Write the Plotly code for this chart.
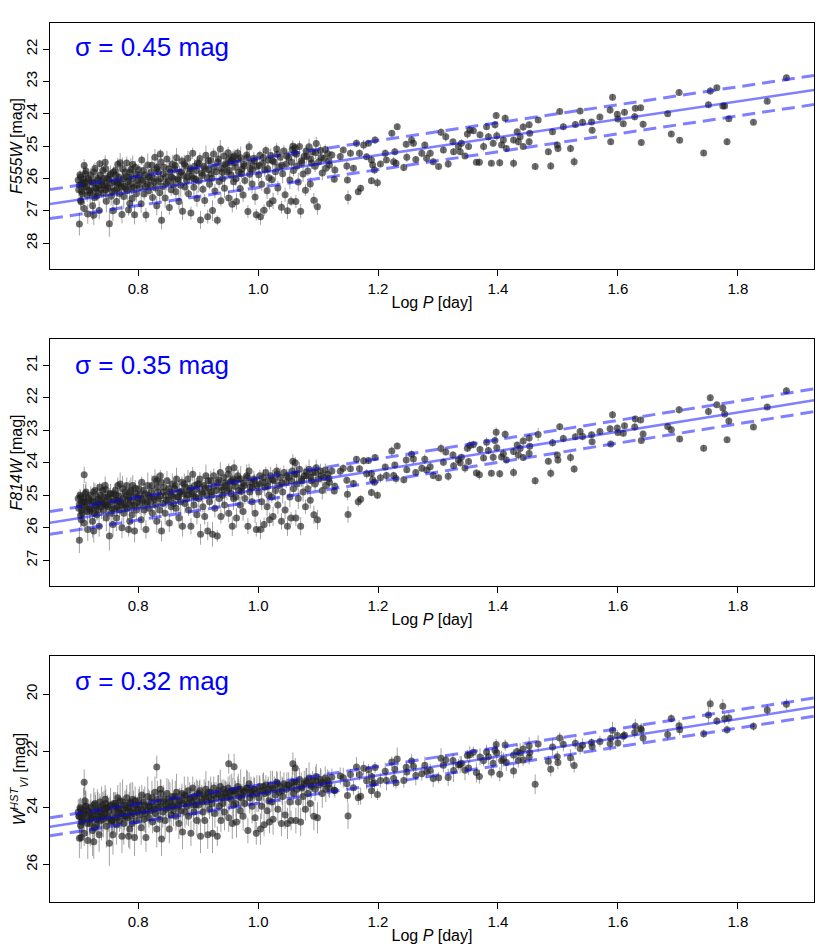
import plotly.graph_objects as go

# log period [day], shared by the three panels (one entry per Cepheid)
log_p = [
    0.701, 0.702, 0.703, 0.704, 0.706, 0.707, 0.709, 0.710, 0.712, 0.713,
    0.715, 0.716, 0.718, 0.719, 0.711, 0.705, 0.721, 0.722, 0.724, 0.725,
    0.726, 0.728, 0.729, 0.731, 0.732, 0.734, 0.735, 0.736, 0.738, 0.739,
    0.727, 0.733, 0.741, 0.742, 0.744, 0.745, 0.747, 0.748, 0.750, 0.752,
    0.753, 0.755, 0.756, 0.758, 0.759, 0.746, 0.761, 0.763, 0.764, 0.766,
    0.767, 0.769, 0.770, 0.772, 0.773, 0.775, 0.776, 0.778, 0.779, 0.765,
    0.781, 0.782, 0.784, 0.785, 0.787, 0.788, 0.790, 0.791, 0.793, 0.794,
    0.796, 0.797, 0.799, 0.786, 0.801, 0.803, 0.805, 0.806, 0.808, 0.810,
    0.811, 0.813, 0.815, 0.816, 0.818, 0.819, 0.821, 0.823, 0.824, 0.826,
    0.828, 0.829, 0.831, 0.833, 0.834, 0.836, 0.838, 0.839, 0.837, 0.841,
    0.843, 0.845, 0.846, 0.848, 0.850, 0.852, 0.853, 0.855, 0.857, 0.858,
    0.859, 0.861, 0.863, 0.864, 0.866, 0.868, 0.869, 0.871, 0.873, 0.874,
    0.876, 0.878, 0.879, 0.881, 0.883, 0.884, 0.886, 0.888, 0.889, 0.891,
    0.893, 0.894, 0.896, 0.898, 0.899, 0.901, 0.903, 0.904, 0.906, 0.908,
    0.910, 0.911, 0.913, 0.915, 0.916, 0.918, 0.919, 0.921, 0.923, 0.924,
    0.926, 0.928, 0.930, 0.932, 0.933, 0.935, 0.937, 0.938, 0.939, 0.941,
    0.943, 0.944, 0.946, 0.948, 0.950, 0.951, 0.953, 0.955, 0.957, 0.958,
    0.959, 0.961, 0.963, 0.964, 0.966, 0.968, 0.970, 0.971, 0.973, 0.975,
    0.977, 0.978, 0.981, 0.983, 0.985, 0.986, 0.988, 0.990, 0.991, 0.993,
    0.995, 0.997, 0.998, 1.001, 1.003, 1.004, 1.006, 1.008, 1.010, 1.011,
    1.013, 1.015, 1.017, 1.018, 1.019, 1.021, 1.023, 1.025, 1.027, 1.029,
    1.031, 1.033, 1.035, 1.037, 1.039, 1.041, 1.043, 1.045, 1.047, 1.049,
    1.051, 1.053, 1.055, 1.057, 1.059, 1.061, 1.063, 1.065, 1.067, 1.069,
    1.071, 1.073, 1.075, 1.077, 1.079, 1.081, 1.083, 1.085, 1.087, 1.089,
    1.091, 1.093, 1.095, 1.097, 1.099, 1.101, 1.104, 1.107, 1.110, 1.113,
    1.116, 1.119, 0.710, 0.831, 0.951, 0.960, 1.058, 1.062,
    1.123, 1.128, 1.127, 1.137, 1.142, 1.148, 1.149, 1.150, 1.154, 1.159,
    1.164, 1.167, 1.171, 1.169, 1.176, 1.181, 1.184, 1.189, 1.191, 1.195,
    1.189, 1.194, 1.199, 1.204, 1.212, 1.214, 1.223, 1.228, 1.226, 1.230,
    1.232, 1.243, 1.247, 1.248, 1.256, 1.259, 1.263, 1.273, 1.278, 1.281,
    1.287, 1.292, 1.301, 1.305, 1.309, 1.313, 1.317, 1.325, 1.326, 1.334,
    1.337, 1.339, 1.345, 1.349, 1.351, 1.353, 1.359, 1.364, 1.369, 1.370,
    1.376, 1.381, 1.384, 1.389, 1.392, 1.395, 1.398, 1.397, 1.403, 1.406,
    1.409, 1.412, 1.414, 1.426, 1.426, 1.432, 1.434, 1.437, 1.442, 1.442,
    1.452, 1.453, 1.452, 1.462, 1.467, 1.484, 1.488, 1.491, 1.499, 1.500,
    1.503, 1.509, 1.521, 1.527, 1.529,
    1.537, 1.541, 1.556, 1.557, 1.570, 1.587, 1.591, 1.588, 1.599, 1.600,
    1.609, 1.611, 1.629, 1.628, 1.638, 1.642, 1.639, 1.683, 1.689, 1.702,
    1.703, 1.743, 1.751, 1.754, 1.765, 1.775, 1.778, 1.782, 1.785, 1.826,
    1.849, 1.881,
    0.700, 0.702, 0.704, 0.706, 0.708, 0.712, 0.714, 0.717, 0.720, 0.723,
    0.726, 0.730, 0.733, 0.737, 0.740, 0.743, 0.746, 0.749, 0.751, 0.754,
    0.757, 0.760, 0.762, 0.765, 0.768, 0.771, 0.774, 0.777, 0.780, 0.783,
    0.786, 0.789, 0.792, 0.795, 0.798, 0.802, 0.805, 0.809, 0.812, 0.817,
    0.822, 0.827, 0.832, 0.837, 0.842, 0.847, 0.851, 0.856, 0.862, 0.867,
    0.872, 0.877, 0.882, 0.887, 0.892, 0.897, 0.902, 0.907, 0.912, 0.917,
    0.922, 0.927, 0.934, 0.940, 0.945, 0.952, 0.956, 0.962, 0.967, 0.972,
    0.976, 0.982, 0.987, 0.994, 1.002, 1.009, 1.016, 1.024, 1.032, 1.040,
    1.048, 1.056, 1.064, 1.072, 1.080, 1.088, 1.096, 1.105, 1.112, 1.118,
]

f555w = [
    26.35, 27.41, 25.88, 26.68, 26.18, 26.48, 26.03, 26.93, 26.27, 25.77,
    26.52, 27.10, 26.07, 26.37, 26.12, 26.72, 25.89, 26.39, 26.84, 26.14,
    27.14, 25.69, 26.29, 26.54, 25.99, 26.24, 26.99, 25.54, 26.34, 26.09,
    26.59, 26.44, 25.75, 26.45, 26.20, 25.50, 26.70, 26.00, 26.30, 27.40,
    25.90, 26.55, 26.15, 27.00, 25.80, 26.35, 26.36, 25.91, 26.71, 25.56,
    26.16, 26.46, 25.51, 26.26, 27.11, 26.01, 26.56, 25.81, 26.31, 26.11,
    25.52, 26.37, 26.97, 25.97, 26.17, 25.72, 26.62, 25.57, 26.27, 27.12,
    25.87, 26.47, 26.07, 26.77, 25.73, 26.28, 26.78, 25.43, 26.08, 26.48,
    25.88, 27.13, 26.18, 25.58, 26.38, 25.98, 26.19, 25.59, 26.59, 25.99,
    25.34, 26.29, 26.84, 25.79, 26.09, 26.44, 25.49, 27.29, 25.24, 26.25,
    25.65, 26.60, 25.95, 25.40, 26.10, 26.90, 25.80, 26.35, 25.55, 26.00,
    26.20, 25.71, 26.41, 25.36, 26.01, 26.71, 25.81, 26.21, 25.46, 27.01,
    25.91, 26.26, 25.61, 26.07, 25.37, 26.47, 25.77, 27.07, 25.92, 25.22,
    26.27, 25.62, 26.02, 26.62, 25.52, 26.08, 25.38, 27.28, 25.83, 26.33,
    25.63, 26.68, 25.28, 25.98, 27.18, 25.73, 26.18, 25.44, 25.99, 26.99,
    25.24, 26.39, 25.79, 27.29, 25.49, 26.09, 25.09, 26.69, 25.69, 26.00,
    25.30, 26.30, 25.60, 25.80, 25.20, 26.60, 25.50, 25.90, 26.80, 25.35,
    26.10, 25.51, 26.01, 26.71, 25.21, 25.81, 26.31, 25.36, 25.71, 26.51,
    25.61, 26.06, 25.27, 27.02, 25.02, 25.87, 25.52, 26.17, 25.72, 25.37,
    26.57, 27.12, 25.62, 25.88, 25.28, 27.18, 26.18, 25.53, 26.98, 25.73,
    25.13, 26.38, 25.43, 25.98, 26.78, 25.29, 26.04, 26.69, 25.49, 25.79,
    25.09, 26.29, 25.64, 25.34, 26.89, 25.85, 25.15, 26.50, 25.55, 27.00,
    25.35, 26.05, 26.70, 25.10, 25.75, 25.21, 26.71, 25.61, 26.11, 25.01,
    27.01, 25.51, 25.86, 25.31, 26.36, 25.32, 25.77, 25.02, 26.17, 25.52,
    25.17, 26.67, 25.62, 24.92, 26.87, 25.48, 25.13, 25.83, 25.38, 25.68,
    25.23, 25.58, 25.60, 25.70, 25.40, 25.30, 25.00, 25.05,
    25.27, 25.74, 26.02, 25.32, 25.12, 25.61, 26.05, 26.59, 25.22, 25.68,
    24.91, 26.41, 26.30, 25.22, 24.96, 25.33, 24.91, 25.43, 25.58, 24.81,
    26.07, 25.74, 26.13, 25.55, 25.22, 25.43, 24.60, 25.17, 25.48, 25.53,
    24.40, 25.66, 24.94, 25.34, 24.81, 24.91, 25.41, 25.22, 24.96, 25.37,
    25.22, 25.48, 25.63, 24.57, 25.12, 24.71, 25.55, 24.86, 25.17, 25.01,
    25.17, 24.91, 25.30, 24.62, 25.01, 24.50, 24.52, 25.50, 25.50, 24.65,
    25.01, 24.40, 24.71, 25.53, 24.91, 24.34, 24.68, 24.05, 25.51, 24.96,
    24.81, 24.14, 25.07, 25.53, 24.81, 24.55, 24.86, 24.71, 25.01, 24.41,
    24.34, 24.60, 24.86, 25.63, 24.19, 25.17, 25.61, 24.55, 24.96, 25.07,
    23.93, 24.40, 25.07, 25.48, 24.33,
    23.91, 24.26, 24.25, 24.51, 24.10, 23.88, 23.49, 24.86, 24.01, 24.16,
    24.31, 23.95, 23.83, 24.09, 23.81, 24.32, 24.89, 24.00, 24.62, 23.34,
    24.82, 25.21, 23.72, 23.29, 23.19, 23.76, 23.76, 24.86, 24.15, 24.26,
    23.61, 22.88,
    26.05, 26.20, 25.95, 26.40, 26.15, 25.85, 26.25, 26.00, 26.45, 26.10,
    25.80, 26.30, 26.05, 25.90, 26.20, 26.00, 25.70, 26.25, 26.05, 25.85,
    26.40, 26.10, 25.75, 26.30, 25.95, 26.15, 25.70, 26.25, 25.95, 26.10,
    25.80, 26.30, 26.00, 25.65, 26.20, 25.90, 26.05, 25.75, 26.25, 25.95,
    25.80, 26.10, 25.65, 26.00, 25.85, 26.15, 25.70, 25.95, 25.60, 26.05,
    25.80, 25.55, 25.95, 25.70, 26.00, 25.75, 25.55, 25.90, 25.70, 25.45,
    25.85, 25.65, 25.40, 25.80, 25.55, 25.75, 25.45, 25.65, 25.40, 25.85,
    25.55, 25.35, 25.70, 25.45, 25.60, 25.35, 25.70, 25.45, 25.25, 25.60,
    25.30, 25.50, 25.25, 25.45, 25.15, 25.40, 25.20, 25.35, 25.10, 25.45,
]

f814w = [
    25.40, 26.38, 25.00, 25.62, 25.22, 25.55, 25.10, 25.85, 25.35, 24.90,
    25.50, 26.05, 25.15, 25.42, 25.20, 25.75, 25.00, 25.42, 25.80, 25.20,
    26.10, 24.85, 25.30, 25.60, 25.05, 25.25, 25.95, 24.75, 25.35, 25.18,
    25.55, 25.45, 24.85, 25.45, 25.25, 24.70, 25.70, 25.05, 25.35, 26.25,
    24.95, 25.55, 25.20, 25.90, 24.95, 25.30, 25.40, 25.00, 25.70, 24.70,
    25.20, 25.45, 24.65, 25.30, 26.00, 25.10, 25.55, 24.90, 25.35, 25.15,
    24.70, 25.40, 26.05, 25.05, 25.20, 24.85, 25.60, 24.70, 25.30, 26.10,
    24.95, 25.45, 25.10, 25.80, 24.80, 25.30, 25.75, 24.60, 25.15, 25.45,
    24.95, 26.05, 25.20, 24.70, 25.40, 25.05, 25.20, 24.70, 25.55, 25.05,
    24.50, 25.30, 25.80, 24.90, 25.10, 25.45, 24.60, 26.10, 24.40, 25.25,
    24.75, 25.55, 25.00, 24.55, 25.15, 25.85, 24.90, 25.35, 24.65, 25.05,
    25.25, 24.80, 25.40, 24.50, 25.05, 25.70, 24.90, 25.20, 24.60, 25.95,
    24.95, 25.25, 24.75, 25.10, 24.50, 25.45, 24.85, 25.95, 24.95, 24.35,
    25.30, 24.70, 25.05, 25.60, 24.65, 25.10, 24.50, 26.20, 24.90, 25.35,
    24.70, 25.65, 24.40, 25.00, 26.10, 24.80, 25.20, 24.55, 25.00, 26.20,
    24.40, 25.40, 24.85, 26.25, 24.60, 25.10, 24.30, 25.65, 24.75, 25.00,
    24.45, 25.30, 24.70, 24.85, 24.35, 25.55, 24.60, 24.95, 25.95, 24.50,
    25.10, 24.60, 25.05, 25.70, 24.40, 24.85, 25.30, 24.50, 24.75, 25.50,
    24.70, 25.10, 24.40, 25.95, 24.25, 24.90, 24.60, 25.20, 24.75, 24.50,
    25.55, 26.05, 24.70, 24.90, 24.40, 26.05, 25.20, 24.60, 25.90, 24.75,
    24.30, 25.35, 24.55, 25.00, 25.75, 24.40, 25.05, 25.65, 24.55, 24.85,
    24.25, 25.30, 24.70, 24.45, 25.80, 24.90, 24.30, 25.45, 24.60, 25.95,
    24.45, 25.05, 25.70, 24.25, 24.80, 24.35, 25.70, 24.65, 25.10, 24.20,
    25.95, 24.55, 24.90, 24.40, 25.35, 24.40, 24.80, 24.20, 25.15, 24.55,
    24.30, 25.60, 24.65, 24.15, 25.75, 24.50, 24.25, 24.85, 24.45, 24.70,
    24.35, 24.60, 24.37, 24.55, 24.20, 24.15, 23.95, 24.00,
    24.25, 24.72, 24.87, 24.26, 24.17, 24.54, 24.97, 25.59, 24.18, 24.64,
    23.89, 25.20, 25.12, 24.18, 23.94, 24.34, 23.93, 24.33, 24.52, 23.84,
    24.91, 24.60, 25.00, 24.46, 24.13, 24.39, 23.64, 24.07, 24.39, 24.48,
    23.48, 24.52, 23.91, 24.21, 23.74, 23.88, 24.30, 24.17, 23.89, 24.22,
    24.12, 24.39, 24.46, 23.56, 23.98, 23.67, 24.41, 23.76, 24.09, 23.91,
    24.00, 23.83, 24.16, 23.55, 23.96, 23.47, 23.44, 24.31, 24.37, 23.59,
    23.85, 23.37, 23.62, 24.32, 23.83, 23.31, 23.54, 23.06, 24.34, 23.82,
    23.72, 23.12, 23.91, 24.30, 23.65, 23.45, 23.76, 23.56, 23.84, 23.33,
    23.24, 23.49, 23.71, 24.55, 23.13, 23.95, 24.32, 23.38, 23.76, 23.91,
    22.89, 23.25, 23.84, 24.19, 23.20,
    23.04, 23.19, 23.14, 23.35, 23.04, 22.95, 22.52, 23.42, 22.93, 23.07,
    23.09, 22.86, 22.65, 22.90, 22.68, 23.11, 23.31, 22.88, 22.98, 22.37,
    23.27, 23.55, 22.42, 22.00, 22.21, 22.31, 22.50, 23.29, 22.71, 22.90,
    22.28, 21.78,
    25.10, 25.28, 25.05, 25.45, 25.20, 24.95, 25.30, 25.08, 25.50, 25.18,
    24.90, 25.35, 25.12, 25.00, 25.25, 25.05, 24.82, 25.30, 25.12, 24.95,
    25.42, 25.15, 24.85, 25.35, 25.02, 25.20, 24.80, 25.28, 25.00, 25.15,
    24.90, 25.32, 25.05, 24.78, 25.22, 24.98, 25.10, 24.85, 25.25, 25.00,
    24.88, 25.12, 24.75, 25.02, 24.90, 25.15, 24.80, 25.00, 24.70, 25.05,
    24.88, 24.65, 24.98, 24.78, 25.02, 24.82, 24.65, 24.95, 24.78, 24.55,
    24.90, 24.72, 24.52, 24.85, 24.62, 24.80, 24.55, 24.72, 24.50, 24.88,
    24.62, 24.45, 24.75, 24.55, 24.65, 24.45, 24.72, 24.52, 24.35, 24.62,
    24.40, 24.55, 24.35, 24.50, 24.28, 24.45, 24.30, 24.40, 24.22, 24.48,
]

w_vi = [
    24.30, 25.07, 24.00, 24.62, 24.35, 24.45, 24.10, 24.90, 24.20, 23.95,
    24.55, 25.15, 24.15, 24.40, 23.75, 25.05, 24.00, 24.35, 24.80, 24.25,
    25.20, 23.85, 24.10, 24.60, 24.05, 24.30, 24.95, 23.80, 24.45, 24.20,
    24.70, 24.40, 23.90, 24.40, 24.20, 23.70, 24.65, 24.00, 24.30, 25.25,
    23.95, 24.50, 24.45, 24.95, 23.85, 24.05, 24.35, 23.95, 24.60, 23.65,
    24.15, 24.45, 23.75, 24.20, 25.00, 24.05, 24.55, 23.90, 24.30, 24.00,
    23.65, 24.35, 25.00, 24.00, 24.15, 23.80, 24.55, 23.70, 24.20, 25.05,
    23.90, 24.45, 24.05, 24.75, 23.75, 24.25, 24.70, 23.55, 24.10, 24.40,
    23.90, 25.05, 24.10, 23.60, 24.35, 23.95, 24.10, 23.65, 24.50, 23.95,
    23.45, 24.20, 24.75, 23.80, 24.00, 24.40, 23.50, 25.10, 23.35, 24.15,
    23.70, 24.45, 23.90, 23.50, 24.00, 24.75, 23.80, 24.25, 23.60, 23.95,
    24.10, 23.70, 24.30, 23.45, 23.90, 24.55, 23.75, 24.10, 23.50, 24.85,
    23.85, 24.15, 23.60, 23.95, 23.40, 24.30, 23.70, 24.90, 23.80, 23.30,
    24.15, 23.60, 23.90, 24.45, 23.50, 23.90, 23.40, 25.00, 23.70, 24.15,
    23.55, 24.45, 23.35, 23.80, 24.95, 23.65, 24.05, 23.45, 23.85, 24.90,
    23.30, 24.20, 23.65, 25.00, 23.50, 23.95, 23.25, 24.45, 23.60, 23.85,
    23.35, 24.15, 23.50, 23.65, 23.30, 24.35, 23.45, 23.70, 24.55, 23.40,
    23.90, 23.40, 23.85, 24.50, 23.25, 23.60, 24.10, 23.35, 23.55, 24.30,
    23.45, 23.85, 23.30, 24.80, 23.15, 23.65, 23.40, 23.95, 23.55, 23.35,
    24.35, 24.90, 23.50, 23.65, 23.25, 24.75, 23.95, 23.40, 24.60, 23.50,
    23.20, 24.10, 23.35, 23.75, 24.50, 23.20, 23.80, 24.40, 23.35, 23.55,
    23.10, 24.05, 23.45, 23.25, 24.55, 23.60, 23.15, 24.25, 23.35, 24.55,
    23.20, 23.80, 24.45, 23.10, 23.50, 23.10, 24.45, 23.35, 23.80, 23.00,
    24.50, 23.30, 23.60, 23.15, 24.05, 23.10, 23.50, 22.95, 23.85, 23.25,
    23.05, 24.30, 23.35, 22.90, 24.35, 23.20, 23.00, 23.50, 23.15, 23.35,
    23.05, 23.30, 23.10, 22.56, 22.45, 22.55, 22.45, 22.60,
    22.92, 23.39, 23.38, 22.88, 22.94, 23.15, 23.57, 24.29, 22.83, 23.29,
    22.56, 23.65, 23.59, 22.83, 22.61, 23.05, 22.66, 22.90, 23.14, 22.58,
    23.40, 23.12, 23.53, 23.04, 22.71, 23.04, 22.39, 22.64, 22.97, 23.12,
    22.28, 23.04, 22.57, 22.74, 22.35, 22.54, 22.86, 22.80, 22.50, 22.73,
    22.69, 22.97, 22.94, 22.25, 22.50, 22.32, 22.93, 22.33, 22.69, 22.48,
    22.48, 22.43, 22.68, 22.16, 22.60, 22.13, 22.04, 22.76, 22.90, 22.21,
    22.34, 22.03, 22.20, 22.75, 22.43, 21.97, 22.06, 21.77, 22.82, 22.34,
    22.30, 21.79, 22.40, 22.70, 22.14, 22.02, 22.33, 22.07, 22.32, 21.93,
    21.81, 22.05, 22.22, 23.17, 21.75, 22.36, 22.64, 21.86, 22.20, 22.40,
    21.54, 21.76, 22.24, 22.51, 21.73,
    21.91, 21.80, 21.70, 21.84, 21.66, 21.74, 21.27, 21.55, 21.45, 21.72,
    21.48, 21.44, 21.12, 21.35, 21.21, 21.54, 21.26, 21.42, 20.85, 21.11,
    21.25, 21.39, 20.73, 20.33, 20.94, 20.42, 20.86, 21.25, 20.84, 21.13,
    20.55, 20.35,
    24.15, 24.30, 24.05, 24.50, 24.20, 23.95, 24.35, 24.10, 24.55, 24.25,
    23.90, 24.40, 24.15, 24.00, 24.30, 24.05, 23.85, 24.35, 24.10, 23.90,
    24.45, 24.15, 23.85, 24.35, 24.00, 24.20, 23.80, 24.30, 24.00, 24.10,
    23.85, 24.30, 24.00, 23.75, 24.15, 23.90, 24.05, 23.80, 24.20, 23.95,
    23.80, 24.05, 23.70, 23.95, 23.80, 24.05, 23.70, 23.90, 23.60, 23.95,
    23.75, 23.55, 23.85, 23.65, 23.90, 23.70, 23.50, 23.80, 23.60, 23.45,
    23.70, 23.55, 23.40, 23.65, 23.45, 23.60, 23.40, 23.50, 23.35, 23.65,
    23.42, 23.30, 23.50, 23.35, 23.40, 23.25, 23.45, 23.30, 23.15, 23.40,
    23.20, 23.30, 23.10, 23.25, 23.05, 23.20, 23.05, 23.10, 22.95, 23.15,
]

err_f555w = [
    .20, .35, .15, .30, .25, .18, .40, .22, .15, .28, .20, .30, .12, .25, .35, .18, .22, .15, .45, .20,
    .30, .18, .25, .15, .35, .20, .28, .12, .22, .50, .18, .25, .20, .30, .15, .22, .35, .18, .25, .40,
    .15, .28, .20, .32, .18, .25, .22, .15, .35, .20, .25, .18, .30, .15, .28, .20, .38, .22, .15, .25,
    .20, .30, .18, .25, .15, .35, .22, .28, .18, .30, .15, .25, .20, .32, .18, .22, .28, .15, .25, .20,
    .30, .22, .18, .35, .15, .25, .20, .28, .18, .22, .25, .15, .30, .20, .18, .35, .22, .28, .15, .25,
    .18, .30, .20, .25, .15, .22, .35, .18, .28, .20, .25, .15, .22, .30, .18, .25, .20, .35, .15, .28,
    .20, .25, .18, .30, .22, .15, .28, .20, .25, .18, .30, .22, .15, .25, .20, .35, .18, .28, .22, .15,
    .25, .20, .30, .18, .22, .28, .15, .25, .20, .32, .18, .22, .25, .15, .30, .20, .28, .18, .22, .25,
    .15, .30, .20, .25, .18, .22, .28, .15, .25, .20, .30, .18, .22, .25, .15, .28, .20, .35, .18, .22,
    .25, .15, .30, .20, .18, .25, .22, .28, .15, .20, .25, .18, .30, .22, .15, .25, .20, .28, .18, .22,
    .15, .25, .20, .30, .18, .22, .15, .25, .20, .28, .18, .22, .15, .25, .20, .30, .18, .22, .15, .25,
    .20, .28, .15, .22, .18, .25, .20, .15, .28, .18, .22, .15, .25, .20, .18, .22, .15, .25, .20, .18,
    .15, .22, .18, .20, .25, .15, .18, .22, .15, .20, .18, .15, .20, .18, .15, .20, .18, .15,
    .12, .15, .10, .12, .08, .15, .10, .22, .12, .10, .12, .08, .10, .12, .15, .10, .08, .12, .10, .12,
    .10, .12, .15, .10, .12, .08, .10, .12, .15, .10, .08, .12, .10, .15, .12, .10, .08, .12, .10, .15,
    .12, .10, .08, .12, .10, .15, .12, .08, .10, .12, .10, .12, .08, .15, .10, .12, .10, .08, .12, .10,
    .15, .10, .12, .08, .10, .12, .15, .10, .12, .08, .10, .12, .08, .15, .10, .08, .12, .10, .08, .12,
    .10, .08, .12, .10, .08, .10, .12, .08, .10, .12, .08, .10, .12, .15, .10,
    .08, .10, .08, .10, .08, .12, .10, .08, .10, .08, .08, .10, .08, .12, .08, .10, .08, .08, .08, .10,
    .08, .08, .10, .12, .08, .10, .08, .10, .08, .08, .08, .08,
    .18, .25, .15, .30, .20, .22, .28, .15, .35, .20, .25, .18, .30, .15, .22, .28, .20, .35, .18, .25,
    .20, .30, .15, .25, .18, .22, .35, .20, .28, .15, .30, .18, .25, .20, .15, .28, .22, .18, .30, .25,
    .15, .22, .28, .18, .25, .20, .30, .15, .22, .25, .18, .28, .20, .15, .25, .30, .18, .22, .20, .15,
    .25, .18, .22, .28, .15, .20, .25, .18, .22, .15, .20, .25, .18, .15, .22, .20, .18, .25, .15, .20,
    .18, .15, .22, .20, .18, .15, .20, .18, .15, .18,
]

err_f814w = [
    .25, .40, .20, .35, .30, .22, .45, .25, .18, .32, .25, .35, .15, .30, .40, .22, .28, .18, .50, .25,
    .35, .22, .30, .18, .40, .25, .32, .15, .28, .55, .22, .30, .25, .35, .18, .28, .40, .22, .30, .45,
    .18, .32, .25, .38, .22, .30, .28, .18, .40, .25, .30, .22, .35, .18, .32, .25, .42, .28, .18, .30,
    .25, .35, .22, .30, .18, .40, .28, .32, .22, .35, .18, .30, .25, .38, .22, .28, .32, .18, .30, .25,
    .35, .28, .22, .40, .18, .30, .25, .32, .22, .28, .30, .18, .35, .25, .22, .40, .28, .32, .18, .30,
    .22, .35, .25, .30, .18, .28, .40, .22, .32, .25, .30, .18, .28, .35, .22, .30, .25, .40, .18, .32,
    .25, .30, .22, .35, .28, .18, .32, .25, .30, .22, .35, .28, .18, .30, .25, .40, .22, .32, .28, .18,
    .30, .25, .35, .22, .28, .32, .18, .30, .25, .38, .22, .28, .30, .18, .35, .25, .32, .22, .28, .30,
    .18, .35, .25, .30, .22, .28, .32, .18, .30, .25, .35, .22, .28, .30, .18, .32, .25, .40, .22, .28,
    .30, .18, .35, .25, .22, .30, .28, .32, .18, .25, .30, .22, .35, .28, .18, .30, .25, .32, .22, .28,
    .18, .30, .25, .35, .22, .28, .18, .30, .25, .32, .22, .28, .18, .30, .25, .35, .22, .28, .18, .30,
    .25, .32, .18, .28, .22, .30, .25, .18, .32, .22, .28, .18, .30, .25, .22, .28, .18, .30, .25, .22,
    .18, .28, .22, .25, .30, .18, .22, .28, .18, .25, .22, .18, .25, .22, .18, .25, .22, .18,
    .15, .12, .10, .15, .12, .10, .18, .25, .10, .12, .10, .15, .12, .10, .12, .15, .10, .12, .15, .10,
    .12, .10, .12, .15, .10, .12, .15, .10, .12, .15, .10, .12, .15, .10, .12, .15, .10, .12, .15, .10,
    .15, .12, .10, .15, .12, .10, .15, .12, .10, .15, .12, .10, .15, .12, .10, .15, .12, .10, .15, .12,
    .10, .15, .12, .10, .15, .12, .10, .15, .12, .10, .15, .12, .10, .15, .12, .10, .15, .12, .10, .15,
    .12, .10, .15, .12, .20, .10, .15, .12, .10, .12, .10, .12, .15, .12, .10,
    .10, .12, .10, .08, .10, .10, .12, .08, .10, .08, .10, .08, .10, .12, .08, .10, .08, .08, .10, .12,
    .08, .10, .12, .10, .08, .10, .08, .08, .10, .08, .08, .10,
    .22, .30, .20, .35, .25, .28, .32, .20, .40, .25, .30, .22, .35, .20, .28, .32, .25, .40, .22, .30,
    .25, .35, .20, .30, .22, .28, .40, .25, .32, .20, .35, .22, .30, .25, .20, .32, .28, .22, .35, .30,
    .20, .28, .32, .22, .30, .25, .35, .20, .28, .30, .22, .32, .25, .20, .30, .35, .22, .28, .25, .20,
    .30, .22, .28, .32, .20, .25, .30, .22, .28, .20, .25, .30, .22, .20, .28, .25, .22, .30, .20, .25,
    .22, .20, .28, .25, .22, .20, .25, .22, .20, .22,
]

err_w_vi = [
    .45, .70, .35, .60, .50, .40, .80, .45, .35, .55, .45, .65, .30, .55, .75, .40, .50, .35, .90, .45,
    .60, .40, .55, .35, .70, .45, .60, .30, .50, .95, .40, .55, .45, .65, .35, .50, .75, .40, .55, .80,
    .35, .60, .45, .70, .40, .55, .50, .35, .70, .45, .55, .40, .65, .35, .60, .45, .75, .50, .35, .55,
    .45, .65, .40, .55, .35, .70, .50, .60, .40, .65, .35, .55, .45, .70, .40, .50, .60, .35, .55, .45,
    .65, .50, .40, .70, .35, .55, .45, .60, .40, .50, .55, .35, .65, .45, .40, .70, .50, .60, .35, .55,
    .40, .65, .45, .55, .35, .50, .70, .40, .60, .45, .55, .35, .50, .65, .40, .55, .45, .70, .35, .60,
    .45, .55, .40, .65, .50, .35, .60, .45, .55, .40, .65, .50, .35, .55, .45, .70, .40, .60, .50, .35,
    .55, .45, .65, .40, .50, .60, .35, .55, .45, .70, .40, .50, .55, .35, .65, .45, .60, .40, .50, .55,
    .35, .65, .45, .55, .40, .50, .60, .35, .55, .45, .65, .40, .50, .55, .35, .60, .45, .70, .40, .50,
    .55, .35, .65, .45, .40, .55, .50, .60, .35, .45, .55, .40, .65, .50, .35, .55, .45, .60, .40, .50,
    .35, .55, .45, .65, .40, .50, .35, .55, .45, .60, .40, .50, .35, .55, .45, .65, .40, .50, .35, .55,
    .45, .60, .35, .50, .40, .55, .45, .35, .60, .40, .50, .35, .55, .45, .40, .50, .35, .55, .45, .40,
    .35, .50, .40, .45, .55, .35, .40, .50, .35, .45, .40, .35, .45, .40, .35, .45, .40, .35,
    .30, .25, .20, .30, .35, .20, .25, .45, .20, .25, .35, .25, .30, .20, .25, .30, .20, .25, .35, .20,
    .25, .30, .20, .25, .30, .35, .20, .25, .30, .20, .40, .25, .20, .30, .25, .20, .35, .25, .30, .20,
    .25, .30, .20, .35, .25, .20, .30, .25, .40, .20, .30, .25, .35, .20, .25, .30, .20, .35, .25, .30,
    .20, .25, .30, .20, .35, .25, .30, .20, .25, .35, .25, .20, .30, .25, .20, .30, .25, .35, .20, .25,
    .30, .20, .25, .35, .30, .20, .25, .30, .20, .25, .20, .25, .30, .25, .20,
    .20, .25, .15, .20, .20, .25, .30, .20, .20, .15, .20, .15, .25, .20, .15, .20, .25, .20, .15, .20,
    .20, .15, .30, .20, .15, .25, .20, .15, .20, .15, .20, .20,
    .45, .60, .40, .70, .50, .55, .65, .40, .80, .50, .60, .45, .70, .40, .55, .65, .50, .80, .45, .60,
    .50, .70, .40, .60, .45, .55, .80, .50, .65, .40, .70, .45, .60, .50, .40, .65, .55, .45, .70, .60,
    .40, .55, .65, .45, .60, .50, .70, .40, .55, .60, .45, .65, .50, .40, .60, .70, .45, .55, .50, .40,
    .60, .45, .55, .65, .40, .50, .60, .45, .55, .40, .50, .60, .45, .40, .55, .50, .45, .60, .40, .50,
    .45, .40, .55, .50, .45, .40, .50, .45, .40, .45,
]

# fitted PL relations: magnitude at log P = 1, slope, and scatter
fit_zp = [25.83, 24.82, 23.52]
fit_slope = [-2.77, -2.96, -3.31]
fit_sigma = [0.45, 0.35, 0.32]

y_titles = ["<i>F555W</i> [mag]", "<i>F814W</i> [mag]",
            "<i>W</i><sup><i>HST</i></sup><sub><i>VI</i></sub> [mag]"]
y_ranges = [[28.8, 21.19], [27.79, 20.19], [27.32, 18.65]]
y_ticks = [[22, 23, 24, 25, 26, 27, 28], [21, 22, 23, 24, 25, 26, 27], [20, 22, 24, 26]]
x_ticks = [0.8, 1.0, 1.2, 1.4, 1.6, 1.8]
x_range = [0.653, 1.927]

mags = [f555w, f814w, w_vi]
errs = [err_f555w, err_f814w, err_w_vi]
domains = [[0.7201, 1.0], [0.3595, 0.6405], [0.0, 0.2799]]
label_y = [0.9727, 0.6109, 0.2518]

FONT = "Liberation Sans, Arial, Helvetica, sans-serif"
line_col = "rgba(0,0,255,0.5)"

fig = go.Figure()
for i in range(3):
    sfx = "" if i == 0 else str(i + 1)
    fig.add_trace(go.Scatter(
        x=log_p, y=mags[i], mode="markers",
        error_y=dict(type="data", array=errs[i], visible=True,
                     color="rgba(90,90,90,0.55)", thickness=1, width=0),
        marker=dict(size=7, color="rgba(30,30,30,0.65)", line=dict(width=0)),
        xaxis="x" + sfx, yaxis="y" + sfx, showlegend=False, hoverinfo="skip"))
    fit = [fit_zp[i] + fit_slope[i] * (x - 1.0) for x in x_range]
    fig.add_trace(go.Scatter(
        x=x_range, y=fit, mode="lines", line=dict(color=line_col, width=2.5),
        xaxis="x" + sfx, yaxis="y" + sfx, showlegend=False, hoverinfo="skip"))
    for sgn in (-1, 1):
        fig.add_trace(go.Scatter(
            x=x_range, y=[v + sgn * fit_sigma[i] for v in fit], mode="lines",
            line=dict(color=line_col, width=3, dash="13px,7px"),
            xaxis="x" + sfx, yaxis="y" + sfx, showlegend=False, hoverinfo="skip"))

    axis_common = dict(showline=True, linecolor="black", linewidth=1, mirror=True,
                       ticks="outside", ticklen=6, tickcolor="black",
                       showgrid=False, zeroline=False, automargin=False,
                       tickfont=dict(family=FONT, size=15, color="black"))
    fig.layout["xaxis" + sfx] = dict(
        axis_common, domain=[0, 1], range=x_range, anchor="y" + sfx,
        tickvals=x_ticks, ticktext=["%.1f" % t for t in x_ticks],
        title=dict(text="Log <i>P</i> [day]", standoff=0,
                   font=dict(family=FONT, size=16, color="black")))
    fig.layout["yaxis" + sfx] = dict(
        axis_common, domain=domains[i], range=y_ranges[i], anchor="x" + sfx,
        tickvals=y_ticks[i], tickangle=-90,
        title=dict(text=y_titles[i], standoff=0,
                   font=dict(family=FONT, size=16, color="black")))

    fig.add_annotation(
        text="σ = %.2f mag" % fit_sigma[i], xref="paper", yref="paper",
        x=0.030, y=label_y[i], xanchor="left", yanchor="middle", showarrow=False,
        font=dict(family=FONT, size=26, color="#0000FF"))

# the page body adds an 8 px margin, so the figure is 8 px smaller than the window
fig.update_layout(
    width=822, height=941,
    margin=dict(l=42, r=16, t=15, b=47),
    paper_bgcolor="white", plot_bgcolor="white",
    font=dict(family=FONT, size=14, color="black"),
)

fig.write_html("out.html")
